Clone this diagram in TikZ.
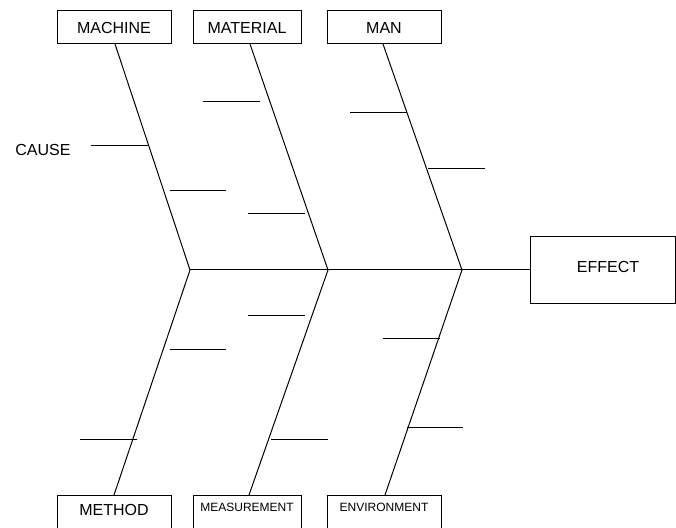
\documentclass[tikz,border=0pt]{standalone}
\usepackage{fontspec}
\setmainfont{Liberation Sans}
\usetikzlibrary{calc}
\begin{document}
\begin{tikzpicture}[x=0.75pt,y=-0.75pt,
  every path/.style={line width=0.75pt},
  big/.style={font=\fontsize{12}{14}\selectfont},
  small/.style={font=\fontsize{9}{11}\selectfont},
  topbox/.style={draw, rectangle, inner sep=0pt, outer sep=0pt, minimum height=24.75pt, big},
  botbox/.style={draw, rectangle, inner sep=0pt, outer sep=0pt, minimum height=26.25pt},
  tick/.style={line width=0.75pt}]
\useasboundingbox (0,0) rectangle (676,528);
% top boxes
\node[topbox, minimum width=85.5pt] (machine) at (114,27.5) {MACHINE};
\node[topbox, minimum width=81pt] (material) at (247,27.5) {MATERIAL};
\node[topbox, minimum width=85.5pt] (man) at (384,27.5) {MAN};
% bottom boxes
\node[botbox, minimum width=85.5pt, label={[big, yshift=1.9pt]center:METHOD}] (method) at (114,512.5) {};
\node[botbox, minimum width=81pt, label={[small, yshift=4.1pt]center:MEASUREMENT}] (measurement) at (247,512.5) {};
\node[botbox, minimum width=85.5pt, label={[small, yshift=4.1pt]center:ENVIRONMENT}] (environment) at (384,512.5) {};
% effect
\node[draw, rectangle, inner sep=0pt, outer sep=0pt, minimum width=108.75pt, minimum height=49.5pt,
  label={[big, xshift=4.1pt, yshift=2.2pt]center:EFFECT}] (effect) at (602.5,270) {};
% cause label
\node[big, inner sep=0pt] (cause) at (43,150) {CAUSE};
% spine junctions
\coordinate (j1) at (190,270);
\coordinate (j2) at (328,270);
\coordinate (j3) at (462,270);
\draw (j1) -- (effect.west);
% bones
\draw ([xshift=0.75pt]machine.south) -- (j1) -- (method.north);
\draw ([xshift=2.25pt]material.south) -- (j2) -- ([xshift=1.5pt]measurement.north);
\draw ([xshift=-0.75pt]man.south) -- (j3) -- ([xshift=0.75pt]environment.north);
% ticks (upper half)
\draw[tick] (91,146) -- (148,146);
\draw[tick] (170,191) -- (226,191);
\draw[tick] (203,102) -- (260,102);
\draw[tick] (248,214) -- (305,214);
\draw[tick] (350,113) -- (407,113);
\draw[tick] (428,169) -- (485,169);
% ticks (lower half)
\draw[tick] (248,315) -- (305,315);
\draw[tick] (170,349) -- (226,349);
\draw[tick] (80,439) -- (137,439);
\draw[tick] (271,439) -- (328,439);
\draw[tick] (383,338) -- (440,338);
\draw[tick] (407,427) -- (463,427);
\end{tikzpicture}
\end{document}
